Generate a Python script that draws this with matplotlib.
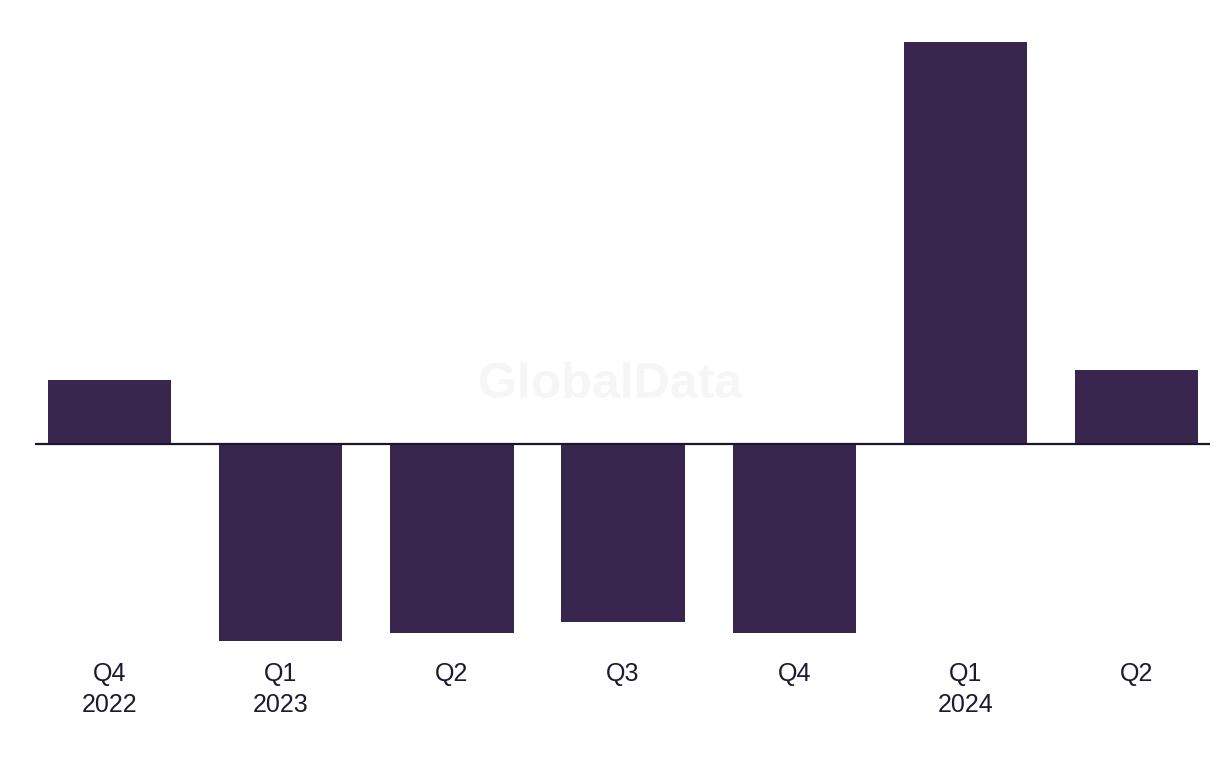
import matplotlib
matplotlib.use("Agg")
import matplotlib.pyplot as plt

# quarterly values (arbitrary units)
quarters = ["Q4\n2022", "Q1\n2023", "Q2", "Q3", "Q4", "Q1\n2024", "Q2"]
values = [0.64, -1.97, -1.89, -1.78, -1.89, 4.02, 0.74]

bar_color = "#38264f"
text_color = "#1c1a2e"

fig = plt.figure(figsize=(12.2, 7.68), dpi=100)
ax = fig.add_axes([35 / 1220, 1 - 641 / 768, 1175 / 1220, 599 / 768])

x = range(len(values))
ax.bar(x, values, width=0.72, color=bar_color, zorder=2)
ax.axhline(0, color="#1b1530", linewidth=1.6, zorder=3)

ax.set_xlim(-0.435, 6.428)
ax.set_ylim(-1.97, 4.02)

ax.set_xticks(list(x))
ax.set_xticklabels(quarters, fontsize=18, color=text_color, linespacing=1.4,
                   fontfamily="Liberation Sans")
ax.tick_params(axis="x", length=0, pad=15)
ax.set_yticks([])
for s in ax.spines.values():
    s.set_visible(False)

# faint watermark
fig.text(0.5, 1 - 385 / 768, "GlobalData", ha="center", va="center",
         fontsize=36, fontweight="bold", color="#f6f6f6", zorder=0,
         fontfamily="Liberation Sans")

fig.savefig("out.png", dpi=100)
